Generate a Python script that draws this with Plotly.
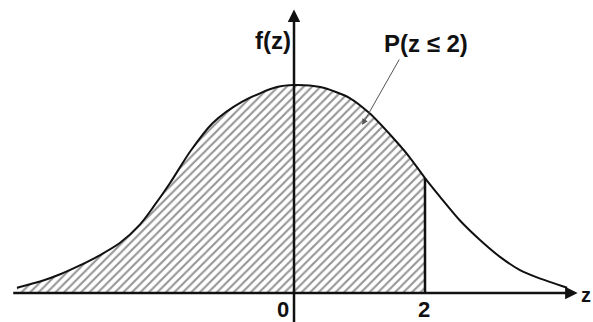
import plotly.graph_objects as go

# curve (z, f(z))
z_vals = [-4.23, -3.83, -3.57, -3.27, -2.96, -2.66, -2.35, -2.15, -1.89, -1.58,
          -1.24, -0.79, -0.26, 0.0, 0.40, 0.85, 1.15, 1.50, 1.76, 2.0,
          2.23, 2.53, 2.84, 3.15, 3.45, 3.73, 4.17]
f_vals = [0.010, 0.024, 0.036, 0.053, 0.073, 0.096, 0.132, 0.165, 0.212, 0.273,
          0.327, 0.368, 0.396, 0.400, 0.396, 0.375, 0.346, 0.300, 0.262, 0.221,
          0.185, 0.140, 0.102, 0.069, 0.044, 0.029, 0.010]
z_cut = 2.0
tick_vals = [0, 2]
tick_text = ["0", "2"]
area_label = "P(z \u2264 2)"

FONT = "Liberation Sans"

shade_z = [z for z in z_vals if z <= z_cut]
shade_f = f_vals[:len(shade_z)]
f_cut = f_vals[z_vals.index(z_cut)]

fig = go.Figure()

# hatched area up to z = 2
fig.add_scatter(x=shade_z, y=shade_f, mode="lines",
                line=dict(width=0, shape="spline", smoothing=0.8),
                fill="tozeroy", fillcolor="rgba(0,0,0,0)",
                fillpattern=dict(shape="/", fgcolor="#2a2a2a", bgcolor="white",
                                 size=6, solidity=0.35),
                hoverinfo="skip")

# density curve
fig.add_scatter(x=z_vals, y=f_vals, mode="lines",
                line=dict(color="#111", width=2, shape="spline", smoothing=0.8))

# vertical line at z = 2
fig.add_scatter(x=[z_cut, z_cut], y=[0, f_cut], mode="lines",
                line=dict(color="#111", width=2.5))

arrow = dict(xref="x", yref="y", axref="x", ayref="y", showarrow=True,
             text="", arrowcolor="#111", arrowhead=2, arrowsize=1, arrowwidth=2.5)
big = dict(family=FONT, size=24, color="#111")
small = dict(family=FONT, size=22, color="#111")
annotations = [
    dict(x=4.33, y=0, ax=-4.31, ay=0, **arrow),          # z axis
    dict(x=0, y=0.545, ax=0, ay=-0.06, **arrow),         # f axis
    dict(x=1.04, y=0.323, ax=1.62, ay=0.452, xref="x", yref="y", axref="x", ayref="y",
         showarrow=True, text="", arrowcolor="#555", arrowhead=2, arrowsize=1.2,
         arrowwidth=1),
    dict(x=-0.32, y=0.485, text="<b>f(z)</b>", showarrow=False, font=big),
    dict(x=2.01, y=0.480, text="<b>" + area_label + "</b>", showarrow=False, font=big),
    dict(x=4.565, y=-0.004, text="<b>z</b>", showarrow=False, xanchor="right",
         font=dict(family=FONT, size=20, color="#111")),
]
for v, t in zip(tick_vals, tick_text):
    annotations.append(dict(x=v + (-0.17 if v == 0 else -0.015), y=-0.031,
                            text="<b>" + t + "</b>", showarrow=False, font=small))

fig.update_layout(
    width=593, height=322,
    margin=dict(l=0, r=0, t=0, b=0),
    paper_bgcolor="white", plot_bgcolor="white",
    showlegend=False,
    annotations=annotations,
    font=dict(family=FONT),
)
fig.update_xaxes(range=[-4.489, 4.565], visible=False)
fig.update_yaxes(range=[-0.0558, 0.5635], visible=False)

fig.write_html("out.html", config={"displayModeBar": False},
               post_script="document.body.style.margin='0';")
